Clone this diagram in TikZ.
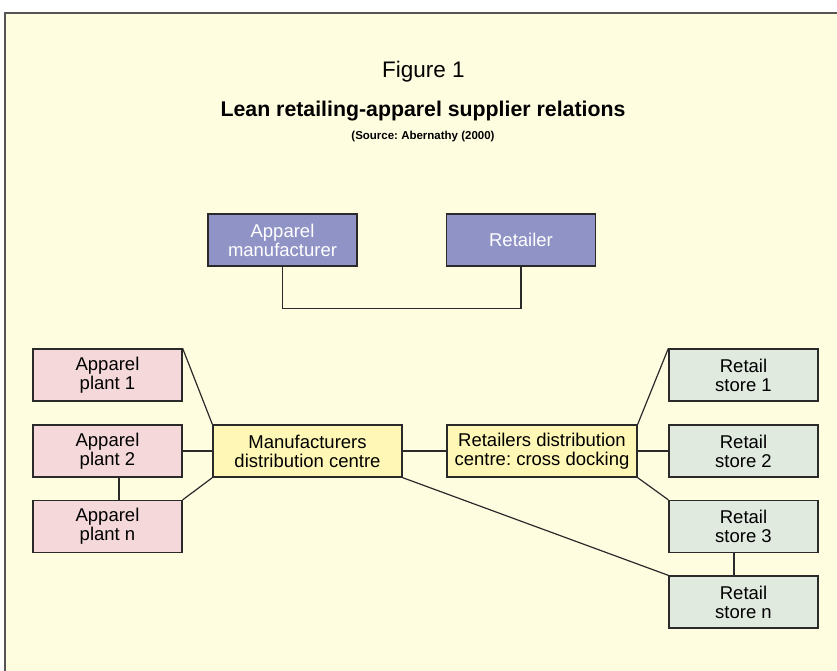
\documentclass[tikz,border=0pt]{standalone}
\usepackage{fontspec}
\setmainfont{Liberation Sans}
\frenchspacing
\definecolor{bgyellow}{HTML}{FFFDE0}
\definecolor{framegrey}{HTML}{555555}
\definecolor{boxblue}{HTML}{8F93C5}
\definecolor{boxpink}{HTML}{F5D9DA}
\definecolor{boxgreen}{HTML}{E0EADF}
\definecolor{boxyellow}{HTML}{FFF7B5}
\definecolor{linedark}{HTML}{2A2A2A}
\begin{document}
\begin{tikzpicture}[x=1pt,y=-1pt,
  box/.style={draw=linedark,line width=1.3pt,inner sep=0pt,align=center,
    minimum width=149pt,minimum height=52pt,
    font=\fontsize{18.5}{19}\selectfont},
  topbox/.style={box,fill=boxblue,text=white},
  plantbox/.style={box,fill=boxpink},
  storebox/.style={box,fill=boxgreen},
  centrebox/.style={box,fill=boxyellow},
  link/.style={draw=linedark,line width=1.2pt}]
\useasboundingbox (0,0) rectangle (837,670);
\fill[white] (0,0) rectangle (837,670);
\filldraw[fill=bgyellow,draw=framegrey,line width=2pt] (5,13) rectangle (845,680);

\node[anchor=base,font=\fontsize{22.5}{24}\selectfont] (fig) at (423.5,77) {Figure 1};
\node[anchor=base,font=\fontsize{21.3}{24}\selectfont\bfseries] (title) at (423,116.7) {Lean retailing-apparel supplier relations};
\node[anchor=base,font=\fontsize{11.5}{13}\selectfont\bfseries] (src) at (423,139) {(Source: Abernathy (2000)};

\node[topbox] (manuf) at (282.5,240) {Apparel\\manufacturer};
\node[topbox] (retailer) at (521,240) {Retailer};

\node[plantbox] (plant1) at (107.5,375) {Apparel\\plant 1};
\node[plantbox] (plant2) at (107.5,451) {Apparel\\plant 2};
\node[plantbox] (plantn) at (107.5,526.5) {Apparel\\plant n};

\node[centrebox,minimum width=189pt] (mdc) at (307.5,451) {Manufacturers\\distribution centre};
\node[centrebox,minimum width=190pt] (rdc) at (542,451) {Retailers distribution\\centre: cross docking};

\node[storebox] (store1) at (743.5,375) {Retail\\store 1};
\node[storebox] (store2) at (743.5,451) {Retail\\store 2};
\node[storebox] (store3) at (743.5,526.5) {Retail\\store 3};
\node[storebox] (storen) at (743.5,602) {Retail\\store n};

\draw[link] (manuf.south) -- ++(0,42) -| (retailer.south);

\draw[link] (plant1.north east) -- (mdc.north west);
\draw[link] (plant2.east) -- (mdc.west);
\draw[link] (plantn.north east) -- (mdc.south west);
\draw[link] ([xshift=11.5pt]plant2.south) -- ([xshift=11.5pt]plantn.north);

\draw[link] (mdc.east) -- (rdc.west);
\draw[link] (mdc.south east) -- (storen.north west);

\draw[link] (rdc.north east) -- (store1.north west);
\draw[link] (rdc.east) -- (store2.west);
\draw[link] (rdc.south east) -- (store3.north west);
\draw[link] ([xshift=-9.5pt]store3.south) -- ([xshift=-9.5pt]storen.north);
\end{tikzpicture}
\end{document}
